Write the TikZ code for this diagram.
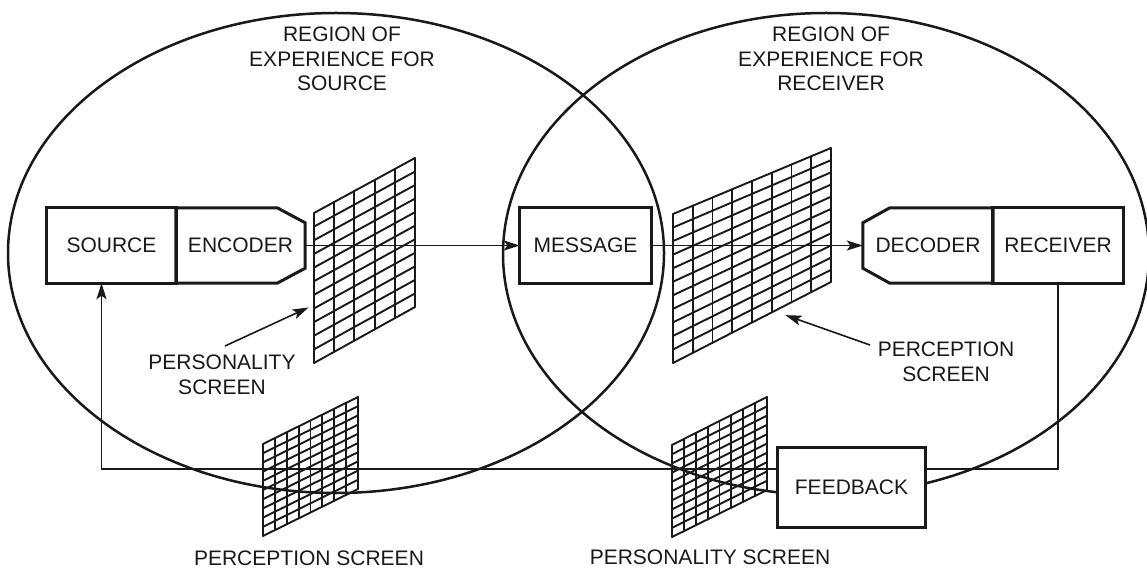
\documentclass[tikz,border=0pt]{standalone}
\usepackage{fontspec}
\setmainfont{Liberation Sans}
\usetikzlibrary{calc,arrows.meta}

% draws a screen as a ruled quadrilateral between the coordinates <prefix>-tl/-tr/-bl/-br
\newcommand{\ruledscreen}[3]{%
  \foreach \i in {0,...,#2}
    \draw[gridline] ($(#1-tl)!\i/#2!(#1-tr)$) -- ($(#1-bl)!\i/#2!(#1-br)$);
  \foreach \j in {0,...,#3}
    \draw[gridline] ($(#1-tl)!\j/#3!(#1-bl)$) -- ($(#1-tr)!\j/#3!(#1-br)$);
}

\begin{document}
\begin{tikzpicture}[x=1pt,y=-1pt,
  region/.style={draw=black!90, line width=2.5pt},
  gridline/.style={draw=black!90, line width=1.9pt, line cap=round},
  flow/.style={draw=black!90, line width=1.6pt},
  arrowflow/.style={flow, -{Stealth[length=16pt,width=10pt,inset=3.5pt]}},
  txt/.style={font=\fontsize{21}{24.5}\selectfont, text=black!90, align=center, inner sep=0pt},
  boxnode/.style={txt, draw=none, fill=white, minimum height=75pt},
  boxline/.style={draw=black!90, line width=3pt, line join=miter}
]
\useasboundingbox (0,0) rectangle (1147,569);
\fill[white] (0,0) rectangle (1147,569);

% regions of experience
\draw[region] (336,253) ellipse [x radius=328pt, y radius=240pt];
\draw[region] (826,254) ellipse [x radius=323pt, y radius=241pt];

\node[txt] (regsrc) at (342,59) {REGION OF\\EXPERIENCE FOR\\SOURCE};
\node[txt] (regrec) at (831,59) {REGION OF\\EXPERIENCE FOR\\RECEIVER};

% screens
\coordinate (pscr-tl) at (314,213);
\coordinate (pscr-bl) at (314,363);
\coordinate (pscr-tr) at (415,158);
\coordinate (pscr-br) at (415,307);
\ruledscreen{pscr}{5}{11}

\coordinate (cscr-tl) at (673,214);
\coordinate (cscr-bl) at (673,363);
\coordinate (cscr-tr) at (831,148);
\coordinate (cscr-br) at (831,282);
\ruledscreen{cscr}{8}{11}

\coordinate (fbp-tl) at (263,444);
\coordinate (fbp-bl) at (263,536);
\coordinate (fbp-tr) at (358,397);
\coordinate (fbp-br) at (358,489);
\ruledscreen{fbp}{8}{10}

\coordinate (fbs-tl) at (672,445);
\coordinate (fbs-bl) at (672,537);
\coordinate (fbs-tr) at (767,397);
\coordinate (fbs-br) at (767,490);
\ruledscreen{fbs}{8}{10}

% boxes
\node[boxnode, minimum width=129pt] (src) at (111.5,245.5) {SOURCE};
\node[boxnode, minimum width=129pt] (enc) at (240.5,245.5) {ENCODER};
\node[boxnode, minimum width=131pt] (msg) at (585.5,245.5) {MESSAGE};
\node[boxnode, minimum width=130pt] (dec) at (928,245.5) {DECODER};
\node[boxnode, minimum width=130pt] (rec) at (1058,245.5) {RECEIVER};
\node[boxnode, minimum width=147pt, minimum height=79pt] (fb) at (851.5,487.5) {FEEDBACK};

\draw[boxline] (src.north west) rectangle (src.south east);
\draw[boxline] (enc.north west) -- ([xshift=-28pt]enc.north east)
  -- ([yshift=-15pt]enc.north east) -- ([yshift=15pt]enc.south east)
  -- ([xshift=-28pt]enc.south east) -- (enc.south west) -- cycle;
\draw[boxline] (msg.north west) rectangle (msg.south east);
\draw[boxline] (dec.north east) -- ([xshift=27pt]dec.north west)
  -- ([yshift=-15pt]dec.north west) -- ([yshift=15pt]dec.south west)
  -- ([xshift=27pt]dec.south west) -- (dec.south east) -- cycle;
\draw[boxline] (rec.north west) rectangle (rec.south east);
\draw[boxline] (fb.north west) rectangle (fb.south east);

% message flow
\draw[arrowflow] (enc.east) -- (msg.west);
\draw[arrowflow] (msg.east) -- (dec.west);

% feedback loop
\coordinate (fbrow) at (0,469);
\draw[flow] (rec.south) -- (rec.south |- fbrow) -- (fb.east |- fbrow);
\draw[arrowflow] (fb.west |- fbrow) -| ([xshift=-10pt]src.south);

% screen labels and pointers
\node[txt] (plbl) at (222,375) {PERSONALITY\\SCREEN};
\node[txt] (clbl) at (946,362) {PERCEPTION\\SCREEN};
\coordinate (plbl-tail) at (225,346);
\coordinate (clbl-tail) at (870,345);
\coordinate (pscr-aim) at ($(pscr-tl)!0.613!(pscr-bl)$);
\coordinate (cscr-aim) at ($(cscr-bl)!0.64!(cscr-br)$);
\draw[arrowflow, shorten >=6pt] (plbl-tail) -- (pscr-aim);
\draw[arrowflow, shorten >=12pt] (clbl-tail) -- (cscr-aim);

\node[txt] (fbplbl) at (309,558) {PERCEPTION SCREEN};
\node[txt] (fbslbl) at (710,557) {PERSONALITY SCREEN};
\end{tikzpicture}
\end{document}
